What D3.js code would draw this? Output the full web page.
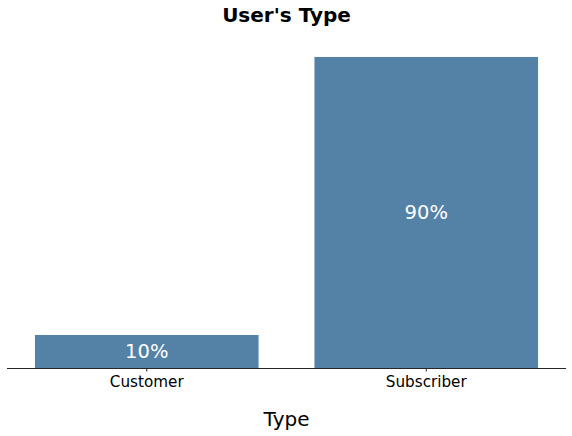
<!DOCTYPE html>
<html>
<head>
<meta charset="utf-8">
<script src="https://cdn.jsdelivr.net/npm/d3@7"></script>
<style>
  html, body { margin: 0; padding: 0; background: #fff; }
  svg { display: block; font-family: "DejaVu Sans", sans-serif; }
</style>
</head>
<body>
<svg id="chart" width="572" height="436"></svg>
<script>
const categories = ["Customer", "Subscriber"];
const shares = [0.096, 0.904];
const titleText = "User's Type";
const xLabel = "Type";

const W = 572, H = 436;
const margin = { left: 7, right: 6, top: 41.4, bottom: 68 };
const svg = d3.select("#chart");

const x = d3.scaleBand()
  .domain(categories)
  .range([margin.left, W - margin.right])
  .paddingInner(0.2)
  .paddingOuter(0.1);

const y = d3.scaleLinear()
  .domain([0, d3.max(shares) * 1.05])
  .range([H - margin.bottom, margin.top]);

const data = categories.map((c, i) => ({ cat: c, v: shares[i] }));
const color = "#5481a6";
const fmt = d3.format(".0%");

svg.selectAll("rect.bar")
  .data(data)
  .join("rect")
  .attr("class", "bar")
  .attr("x", d => x(d.cat))
  .attr("width", x.bandwidth())
  .attr("y", d => y(d.v))
  .attr("height", d => y(0) - y(d.v))
  .attr("fill", color);

svg.selectAll("text.val")
  .data(data)
  .join("text")
  .attr("class", "val")
  .attr("x", d => x(d.cat) + x.bandwidth() / 2)
  .attr("y", d => (y(d.v) + y(0)) / 2)
  .attr("text-anchor", "middle")
  .attr("dominant-baseline", "central")
  .attr("fill", "#fff")
  .attr("font-size", "19.5px")
  .text(d => fmt(d.v));

const xAxis = d3.axisBottom(x).tickSize(3.5).tickPadding(5);
const gx = svg.append("g")
  .attr("transform", `translate(0,${H - margin.bottom})`)
  .call(xAxis);
gx.select(".domain").attr("d", `M${margin.left},0.5H${W - margin.right}`).attr("stroke", "#262626").attr("stroke-width", 1);
gx.selectAll(".tick line").attr("stroke", "#262626");
gx.selectAll(".tick text")
  .attr("font-family", "DejaVu Sans, sans-serif")
  .attr("font-size", "15.2px")
  .attr("fill", "#000");

svg.append("text")
  .attr("x", (margin.left + W - margin.right) / 2)
  .attr("y", 425.5)
  .attr("text-anchor", "middle")
  .attr("font-size", "20px")
  .attr("fill", "#000")
  .text(xLabel);

svg.append("text")
  .attr("x", (margin.left + W - margin.right) / 2)
  .attr("y", 22)
  .attr("text-anchor", "middle")
  .attr("font-size", "20px")
  .attr("font-weight", "bold")
  .attr("fill", "#000")
  .text(titleText);
</script>
</body>
</html>
